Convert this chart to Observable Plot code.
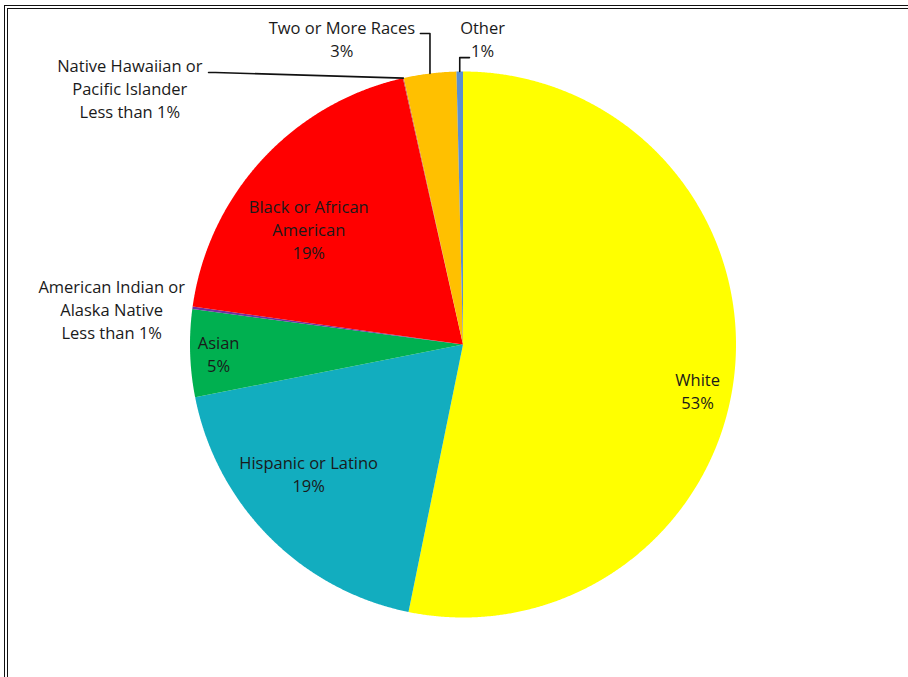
<!DOCTYPE html>
<html>
<head>
<meta charset="utf-8">
<script src="https://cdn.jsdelivr.net/npm/d3@7"></script>
<script src="https://cdn.jsdelivr.net/npm/@observablehq/plot@0.6"></script>
<style>
  html, body { margin: 0; padding: 0; background: #fff; overflow: hidden; }
  #chart { position: relative; width: 908px; height: 677px; }
  #chart svg { display: block; }
  #border {
    position: absolute; left: 4px; top: 5px; width: 1000px; height: 800px;
    border: 4px double #111; box-sizing: border-box; pointer-events: none;
  }
</style>
</head>
<body>
<div id="chart"><div id="border"></div></div>
<script>
// Population share by race / ethnicity (percent of total)
const groups = [
  "White",
  "Hispanic or Latino",
  "Asian",
  "American Indian or Alaska Native",
  "Black or African American",
  "Native Hawaiian or Pacific Islander",
  "Two or More Races",
  "Other"
];
const shares = [53.2, 18.7, 5.17, 0.15, 19.25, 0.05, 3.1, 0.38];
const labelTexts = [
  "White\n53%",
  "Hispanic or Latino\n19%",
  "Asian\n5%",
  "American Indian or\nAlaska Native\nLess than 1%",
  "Black or African\nAmerican\n19%",
  "Native Hawaiian or\nPacific Islander\nLess than 1%",
  "Two or More Races\n3%",
  "Other\n1%"
];
const colors = ["#FFFF00", "#12ADBF", "#00B050", "#7030A0", "#FF0000", "#C0504D", "#FFC000", "#5A8FD2"];

// Label placement: rotation (degrees) from the slice's mid-angle and distance in radii
const labelTurn   = [5.75, 4.65, -0.6, -2.15, -6.25, -39.95, -14.75, 4.36];
const labelRadius = [0.877, 0.74, 0.896, 1.293, 0.702, 1.537, 1.2, 1.118];

// Leader lines for outside labels: elbow and end points in chart units (radius = 1)
const leaders = [
  {group: "Native Hawaiian or Pacific Islander", path: [[-0.9066, 0.9963], [-0.932, 0.9963]]},
  {group: "Two or More Races", path: [[null, 1.139], [-0.156, 1.139]]},
  {group: "Other", path: [[null, 1.051], [0.0238, 1.051]]}
];

const rad = Math.PI / 180;
const arcs = d3.pie().sort(null).value(d => d)(shares);

// Slice outlines as closed polygons (angle 0 at 12 o'clock, clockwise)
const slicePts = [];
arcs.forEach((a, i) => {
  const n = Math.max(2, Math.ceil((a.endAngle - a.startAngle) / (0.25 * rad)));
  slicePts.push({group: groups[i], x: 0, y: 0});
  for (let k = 0; k <= n; k++) {
    const t = a.startAngle + (a.endAngle - a.startAngle) * k / n;
    slicePts.push({group: groups[i], x: Math.sin(t), y: Math.cos(t)});
  }
  slicePts.push({group: groups[i], x: 0, y: 0});
});

const mid = a => (a.startAngle + a.endAngle) / 2;

const labels = arcs.map((a, i) => {
  const t = mid(a) + labelTurn[i] * rad;
  return {group: groups[i], text: labelTexts[i], x: labelRadius[i] * Math.sin(t), y: labelRadius[i] * Math.cos(t)};
});

// Leader: from the slice's outer edge, up (or across) to the label
const leaderPts = [];
leaders.forEach(l => {
  const a = arcs[groups.indexOf(l.group)];
  const t = mid(a);
  const p0 = [Math.sin(t), Math.cos(t)];
  leaderPts.push({group: l.group, x: p0[0], y: p0[1]});
  l.path.forEach(([x, y]) => {
    leaderPts.push({group: l.group, x: x == null ? p0[0] : x, y});
  });
});

const chart = Plot.plot({
  width: 908,
  height: 677,
  marginLeft: 189.5,
  marginRight: 172.5,
  marginTop: 71,
  marginBottom: 60,
  x: {domain: [-1, 1], axis: null},
  y: {domain: [-1, 1], axis: null},
  color: {domain: groups, range: colors},
  style: {fontFamily: "'Open Sans', Lato, sans-serif", background: "transparent", overflow: "visible"},
  marks: [
    Plot.line(slicePts, {x: "x", y: "y", z: "group", fill: "group", stroke: "none", curve: "linear"}),
    Plot.line(leaderPts, {x: "x", y: "y", z: "group", stroke: "#111", strokeWidth: 1.6}),
    Plot.text(labels, {x: "x", y: "y", dy: -2, text: "text", fontSize: 16.5, lineHeight: 1.4, fill: "#1a1a1a"})
  ]
});

document.getElementById("chart").prepend(chart);
</script>
</body>
</html>
